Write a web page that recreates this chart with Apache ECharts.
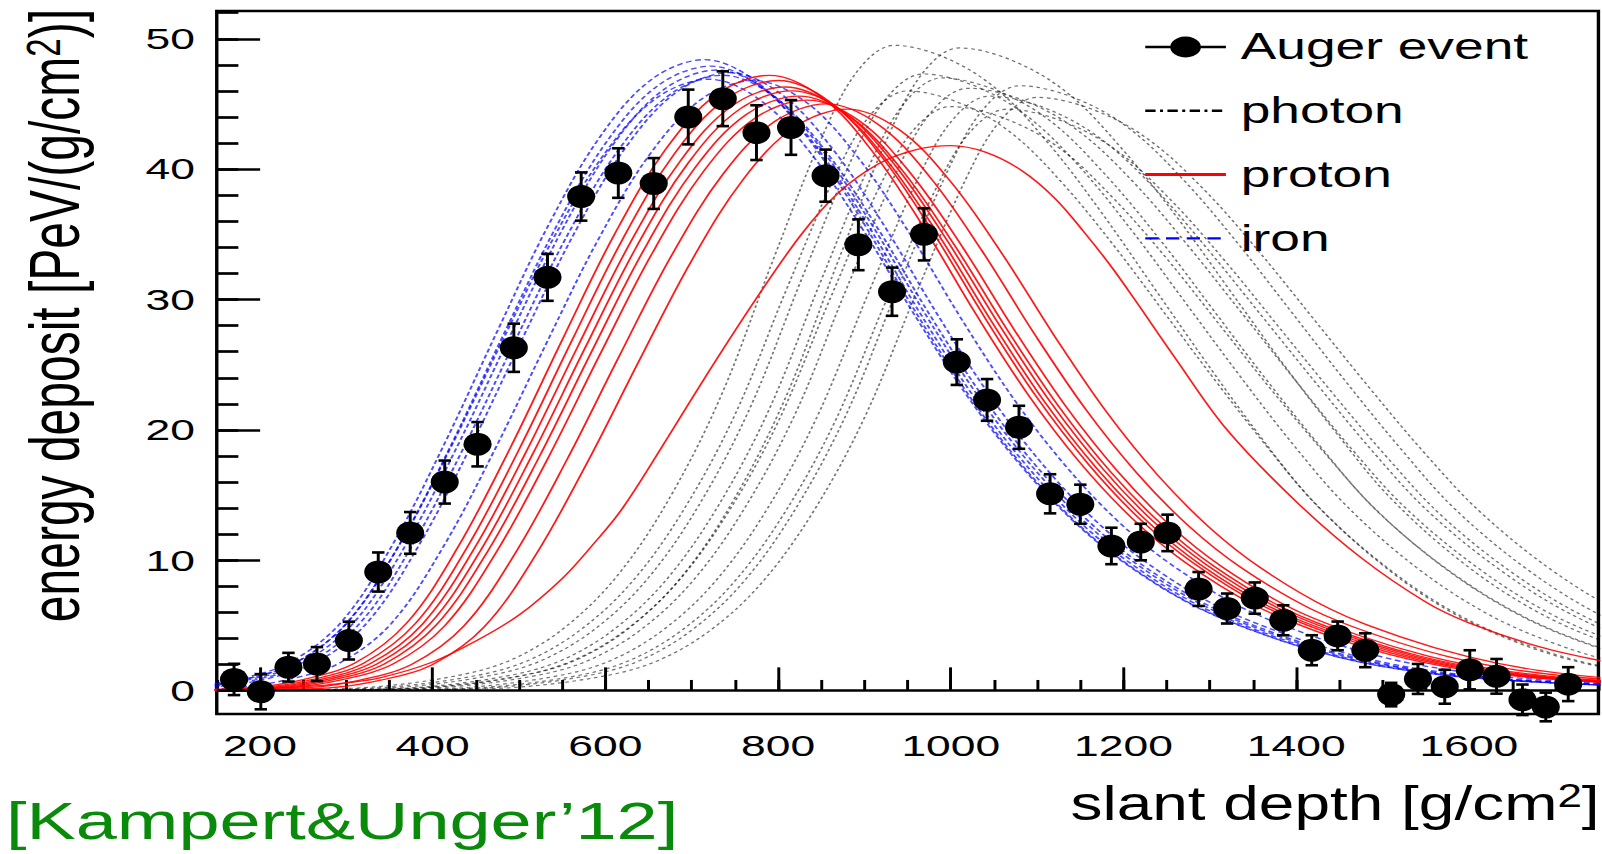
<!DOCTYPE html>
<html><head><meta charset="utf-8">
<script src="https://cdn.jsdelivr.net/npm/echarts@6/dist/echarts.min.js"></script>
<style>
html,body{margin:0;padding:0;background:#fff;width:1602px;height:854px;overflow:hidden}
#chart{width:1082px;height:854px;transform:scaleX(1.48059);transform-origin:0 0}
</style></head><body><div id="chart"></div><script>
// ---- tick values ----
const xMajorTicks = [200,400,600,800,1000,1200,1400,1600];
const xMinorTicks = [150,200,250,300,350,400,450,500,550,600,650,700,750,800,850,900,950,1000,1050,1100,1150,1200,1250,1300,1350,1400,1450,1500,1550,1600,1650,1700,1750];
const yMajorTicks = [0,10,20,30,40,50];
const yMinorTicks = [0,2,4,6,8,10,12,14,16,18,20,22,24,26,28,30,32,34,36,38,40,42,44,46,48,50,52];

// ---- Auger event data ----
const augerX = [170,201,233,266,303,337,374,414,452,494,533,572,615,656,696,736,775,815,855,893,932,969,1007,1042,1079,1115,1150,1186,1220,1251,1287,1320,1352,1385,1418,1448,1480,1510,1541,1572,1601,1632,1662,1689,1715];
const augerY = [0.86,-0.08,1.8,2.04,3.84,9.1,12.1,16.0,18.9,26.3,31.7,37.9,39.7,38.9,44.0,45.4,42.8,43.2,39.5,34.2,30.6,35.0,25.2,22.3,20.2,15.1,14.3,11.1,11.4,12.1,7.8,6.3,7.1,5.4,3.1,4.2,3.1,-0.3,0.9,0.3,1.6,1.1,-0.7,-1.25,0.5];
const augerErr = [1.2,1.35,1.1,1.3,1.45,1.5,1.6,1.65,1.7,1.85,1.8,1.85,1.9,1.95,2.1,2.1,2.1,2.1,2.0,1.95,1.85,2.0,1.75,1.6,1.65,1.5,1.5,1.4,1.4,1.4,1.3,1.15,1.2,1.15,1.15,1.1,1.3,0.9,1.15,1.3,1.5,1.33,1.17,1.1,1.3];

// ---- simulated iron showers ----
const iron1 = [[115,0.24],[175,0.87],[235,2.18],[295,5.32],[355,11.37],[415,19.12],[475,27.59],[535,35.82],[595,42.59],[655,46.95],[715,48.4],[775,46.71],[835,42.35],[895,36.3],[955,29.52],[1015,23.23],[1075,17.91],[1135,13.55],[1195,10.16],[1275,6.78],[1355,4.5],[1435,2.81],[1515,1.69],[1615,0.92],[1765,0.39]];
const iron2 = [[122,0.24],[182,0.86],[242,2.16],[302,5.27],[362,11.26],[422,18.92],[482,27.3],[542,35.45],[602,42.15],[662,46.46],[722,47.9],[782,46.22],[842,41.91],[902,35.93],[962,29.22],[1022,22.99],[1082,17.72],[1142,13.41],[1202,10.06],[1282,6.71],[1362,4.45],[1442,2.78],[1522,1.68],[1622,0.91],[1772,0.38]];
const iron3 = [[129,0.24],[189,0.86],[249,2.14],[309,5.24],[369,11.19],[429,18.8],[489,27.13],[549,35.22],[609,41.89],[669,46.17],[729,47.6],[789,45.93],[849,41.65],[909,35.7],[969,29.04],[1029,22.85],[1089,17.61],[1149,13.33],[1209,10.0],[1289,6.66],[1369,4.43],[1449,2.76],[1529,1.67],[1629,0.9],[1779,0.38]];
const iron4 = [[136,0.24],[196,0.85],[256,2.12],[316,5.19],[376,11.09],[436,18.64],[496,26.9],[556,34.93],[616,41.54],[676,45.78],[736,47.2],[796,45.55],[856,41.3],[916,35.4],[976,28.79],[1036,22.66],[1096,17.46],[1156,13.22],[1216,9.91],[1296,6.61],[1376,4.39],[1456,2.74],[1536,1.65],[1636,0.9],[1786,0.38]];
const iron5 = [[120,0.23],[180,0.84],[240,2.11],[300,5.16],[360,11.02],[420,18.53],[480,26.73],[540,34.71],[600,41.27],[660,45.49],[720,46.9],[780,45.26],[840,41.04],[900,35.18],[960,28.61],[1020,22.51],[1080,17.35],[1140,13.13],[1200,9.85],[1280,6.57],[1360,4.36],[1440,2.72],[1520,1.64],[1620,0.89],[1770,0.38]];
const iron6 = [[144,0.24],[204,0.85],[264,2.13],[324,5.21],[384,11.14],[444,18.72],[504,27.02],[564,35.08],[624,41.71],[684,45.98],[744,47.4],[804,45.74],[864,41.48],[924,35.55],[984,28.91],[1044,22.75],[1104,17.54],[1164,13.27],[1224,9.95],[1304,6.64],[1384,4.41],[1464,2.75],[1544,1.66],[1644,0.9],[1794,0.38]];
const iron7 = [[100,0.05],[172,0.23],[232,0.84],[292,2.11],[352,5.15],[412,11.0],[472,18.49],[532,26.68],[592,34.63],[652,41.18],[712,45.4],[772,46.8],[832,45.16],[892,40.95],[952,35.1],[1012,28.55],[1072,22.46],[1132,17.32],[1192,13.1],[1252,9.83],[1332,6.55],[1412,4.35],[1492,2.71],[1572,1.64],[1672,0.89],[1822,0.37]];

// ---- simulated proton showers ----
const proton1 = [[100,0.03],[190,0.24],[250,0.85],[310,2.12],[370,5.19],[430,11.09],[490,18.64],[550,26.9],[610,34.93],[670,41.54],[730,45.78],[790,47.2],[850,45.55],[910,41.3],[970,35.4],[1030,28.79],[1090,22.66],[1150,17.46],[1210,13.22],[1270,9.91],[1350,6.61],[1430,4.39],[1510,2.74],[1590,1.65],[1690,0.9],[1840,0.38]];
const proton2 = [[100,0.03],[200,0.23],[260,0.84],[320,2.11],[380,5.15],[440,11.0],[500,18.49],[560,26.68],[620,34.63],[680,41.18],[740,45.4],[800,46.8],[860,45.16],[920,40.95],[980,35.1],[1040,28.55],[1100,22.46],[1160,17.32],[1220,13.1],[1280,9.83],[1360,6.55],[1440,4.35],[1520,2.71],[1600,1.64],[1700,0.89],[1850,0.37]];
const proton3 = [[120,0.02],[208,0.23],[268,0.83],[328,2.08],[388,5.09],[448,10.88],[508,18.29],[568,26.39],[628,34.26],[688,40.74],[748,44.91],[808,46.3],[868,44.68],[928,40.51],[988,34.73],[1048,28.24],[1108,22.22],[1168,17.13],[1228,12.96],[1288,9.72],[1368,6.48],[1448,4.31],[1528,2.69],[1608,1.62],[1708,0.88],[1858,0.37]];
const proton4 = [[120,0.02],[216,0.23],[276,0.83],[336,2.07],[396,5.06],[456,10.81],[516,18.17],[576,26.22],[636,34.04],[696,40.48],[756,44.62],[816,46.0],[876,44.39],[936,40.25],[996,34.5],[1056,28.06],[1116,22.08],[1176,17.02],[1236,12.88],[1296,9.66],[1376,6.44],[1456,4.28],[1536,2.67],[1616,1.61],[1716,0.87],[1866,0.37]];
const proton5 = [[120,0.02],[224,0.23],[284,0.82],[344,2.05],[404,5.02],[464,10.72],[524,18.01],[584,25.99],[644,33.74],[704,40.13],[764,44.23],[824,45.6],[884,44.0],[944,39.9],[1004,34.2],[1064,27.82],[1124,21.89],[1184,16.87],[1244,12.77],[1304,9.58],[1384,6.38],[1464,4.24],[1544,2.64],[1624,1.6],[1724,0.87],[1874,0.36]];
const proton6 = [[120,0.02],[234,0.23],[294,0.82],[354,2.04],[414,4.98],[474,10.65],[534,17.89],[594,25.82],[654,33.52],[714,39.86],[774,43.94],[834,45.3],[894,43.71],[954,39.64],[1014,33.98],[1074,27.63],[1134,21.74],[1194,16.76],[1254,12.68],[1314,9.51],[1394,6.34],[1474,4.21],[1554,2.63],[1634,1.59],[1734,0.86],[1884,0.36]];
const proton7 = [[120,0.02],[256,0.23],[316,0.81],[376,2.03],[436,4.95],[496,10.58],[556,17.78],[616,25.65],[676,33.3],[736,39.6],[796,43.65],[856,45.0],[916,43.43],[976,39.38],[1036,33.75],[1096,27.45],[1156,21.6],[1216,16.65],[1276,12.6],[1336,9.45],[1416,6.3],[1496,4.19],[1576,2.61],[1656,1.58],[1756,0.86],[1906,0.36]];
const proton8 = [[120,0.02],[280,0.22],[340,0.8],[400,2.01],[460,4.91],[520,10.48],[580,17.62],[640,25.42],[700,33.0],[760,39.25],[820,43.26],[880,44.6],[940,43.04],[1000,39.03],[1060,33.45],[1120,27.21],[1180,21.41],[1240,16.5],[1300,12.49],[1360,9.37],[1440,6.24],[1520,4.15],[1600,2.59],[1680,1.56],[1780,0.85],[1930,0.36]];
const proton9 = [[150,0.05],[200,0.15],[250,0.3],[300,0.6],[340,1.0],[400,2.2],[450,3.8],[500,5.8],[550,8.6],[583,11.0],[620,14.0],[673,19.5],[720,24.5],[774,30.0],[827,35.0],[870,38.2],[916,40.4],[960,41.5],[1000,41.8],[1040,41.3],[1082,39.9],[1120,37.8],[1154,35.2],[1185,32.6],[1213,30.0],[1260,25.5],[1320,20.0],[1400,14.5],[1475,10.2],[1550,6.8],[1600,5.2],[1680,3.4],[1760,2.2]];

// ---- simulated photon showers ----
const photon1 = [[235,0.05],[335,0.3],[435,1.24],[495,2.48],[555,4.95],[615,8.91],[675,14.85],[735,22.77],[795,33.17],[855,43.07],[895,47.77],[935,49.5],[995,48.51],[1055,46.04],[1115,41.83],[1175,36.63],[1235,30.94],[1295,25.25],[1355,19.8],[1415,14.85],[1495,9.9],[1575,6.19],[1655,3.71],[1735,2.08],[1835,0.99]];
const photon2 = [[250,0.04],[350,0.28],[450,1.15],[510,2.3],[570,4.6],[630,8.28],[690,13.8],[750,21.16],[810,30.82],[870,40.02],[910,44.39],[950,46.0],[1010,45.08],[1070,42.78],[1130,38.87],[1190,34.04],[1250,28.75],[1310,23.46],[1370,18.4],[1430,13.8],[1510,9.2],[1590,5.75],[1670,3.45],[1750,1.93],[1850,0.92]];
const photon3 = [[268,0.04],[368,0.28],[468,1.18],[528,2.37],[588,4.73],[648,8.51],[708,14.19],[768,21.76],[828,31.69],[888,41.15],[928,45.64],[968,47.3],[1029,46.35],[1090,43.99],[1152,39.97],[1213,35.0],[1274,29.56],[1335,24.12],[1396,18.92],[1458,14.19],[1539,9.46],[1621,5.91],[1702,3.55],[1784,1.99],[1886,0.95]];
const photon4 = [[290,0.04],[390,0.28],[490,1.18],[550,2.35],[610,4.7],[670,8.46],[730,14.1],[790,21.62],[850,31.49],[910,40.89],[950,45.36],[990,47.0],[1052,46.06],[1115,43.71],[1177,39.72],[1240,34.78],[1302,29.38],[1364,23.97],[1427,18.8],[1489,14.1],[1572,9.4],[1656,5.88],[1739,3.53],[1822,1.97],[1926,0.94]];
const photon5 = [[310,0.04],[410,0.3],[510,1.23],[570,2.47],[630,4.93],[690,8.87],[750,14.79],[810,22.68],[870,33.03],[930,42.89],[970,47.57],[1010,49.3],[1072,48.31],[1135,45.85],[1197,41.66],[1260,36.48],[1322,30.81],[1384,25.14],[1447,19.72],[1509,14.79],[1592,9.86],[1676,6.16],[1759,3.7],[1842,2.07],[1946,0.99]];
const photon6 = [[300,0.04],[400,0.27],[500,1.12],[560,2.24],[620,4.48],[680,8.06],[740,13.44],[800,20.61],[860,30.02],[920,38.98],[960,43.23],[1000,44.8],[1062,43.9],[1125,41.66],[1187,37.86],[1250,33.15],[1312,28.0],[1374,22.85],[1437,17.92],[1499,13.44],[1582,8.96],[1666,5.6],[1749,3.36],[1832,1.88],[1936,0.9]];
const photon7 = [[320,0.04],[420,0.28],[520,1.16],[580,2.31],[640,4.62],[700,8.32],[760,13.86],[820,21.25],[880,30.95],[940,40.19],[980,44.58],[1020,46.2],[1084,45.28],[1147,42.97],[1211,39.04],[1274,34.19],[1338,28.88],[1402,23.56],[1465,18.48],[1529,13.86],[1614,9.24],[1698,5.78],[1783,3.47],[1868,1.94],[1974,0.92]];
const photon8 = [[345,0.04],[445,0.27],[545,1.14],[605,2.28],[665,4.56],[725,8.21],[785,13.68],[845,20.98],[905,30.55],[965,39.67],[1005,44.0],[1045,45.6],[1109,44.69],[1172,42.41],[1236,38.53],[1299,33.74],[1363,28.5],[1427,23.26],[1490,18.24],[1554,13.68],[1639,9.12],[1723,5.7],[1808,3.42],[1893,1.92],[1999,0.91]];
const photon9 = [[365,0.04],[465,0.27],[565,1.12],[625,2.23],[685,4.46],[745,8.03],[805,13.38],[865,20.52],[925,29.88],[985,38.8],[1025,43.04],[1065,44.6],[1128,43.71],[1191,41.48],[1254,37.69],[1317,33.0],[1380,27.88],[1443,22.75],[1506,17.84],[1569,13.38],[1653,8.92],[1737,5.58],[1821,3.35],[1905,1.87],[2010,0.89]];
const photon10 = [[380,0.04],[480,0.28],[580,1.16],[640,2.32],[700,4.64],[760,8.35],[820,13.92],[880,21.34],[940,31.09],[1000,40.37],[1040,44.78],[1080,46.4],[1143,45.47],[1206,43.15],[1269,39.21],[1332,34.34],[1395,29.0],[1458,23.66],[1521,18.56],[1584,13.92],[1668,9.28],[1752,5.8],[1836,3.48],[1920,1.95],[2025,0.93]];
const photon11 = [[400,0.04],[500,0.27],[600,1.14],[660,2.28],[720,4.55],[780,8.19],[840,13.65],[900,20.93],[960,30.49],[1020,39.59],[1060,43.91],[1100,45.5],[1164,44.59],[1228,42.32],[1293,38.45],[1357,33.67],[1421,28.44],[1485,23.21],[1549,18.2],[1614,13.65],[1699,9.1],[1785,5.69],[1870,3.41],[1956,1.91],[2063,0.91]];

const photonCurves = [photon1,photon2,photon3,photon4,photon5,photon6,photon7,photon8,photon9,photon10,photon11];
const ironCurves = [iron1,iron2,iron3,iron4,iron5,iron6,iron7];
const protonCurves = [proton1,proton2,proton3,proton4,proton5,proton6,proton7,proton8,proton9];

const FONT = "'Liberation Sans', Arial, Helvetica, sans-serif";
const chart = echarts.init(document.getElementById('chart'), null, {renderer:'svg'});

const photonStyle = {color:'#000', width:1.2, opacity:0.55, type:[2.5,2.5]};
const ironStyle = {color:'#0000ff', width:1.4, opacity:0.7, type:[4,2.5]};
const protonStyle = {color:'#ff0000', width:1.3, opacity:0.9, type:'solid'};

function curve(name, data, style) {
  return {type:'line', name:name, data:data, smooth:0.35, symbol:'none', showSymbol:false,
          lineStyle:style, itemStyle:{color:style.color}, silent:true, z:2, animation:false};
}
const series = [];
photonCurves.forEach(c => series.push(curve('photon', c, photonStyle)));
ironCurves.forEach(c => series.push(curve('iron', c, ironStyle)));
protonCurves.forEach(c => series.push(curve('proton', c, protonStyle)));

const errData = augerX.map((x,i) => [x, augerY[i], augerErr[i]]);
series.push({
  type:'custom', name:'Auger event errors', data:errData, z:4, silent:true,
  renderItem:function(params, api){
    const x = api.value(0), y = api.value(1), e = api.value(2);
    const t = api.coord([x, y+e]), b = api.coord([x, y-e]);
    const hw = 4.2;
    return {type:'group', children:[
      {type:'line', shape:{x1:t[0], y1:t[1], x2:b[0], y2:b[1]}, style:{stroke:'#000', lineWidth:2}},
      {type:'line', shape:{x1:t[0]-hw, y1:t[1], x2:t[0]+hw, y2:t[1]}, style:{stroke:'#000', lineWidth:2.6}},
      {type:'line', shape:{x1:b[0]-hw, y1:b[1], x2:b[0]+hw, y2:b[1]}, style:{stroke:'#000', lineWidth:2.6}}
    ]};
  }
});
series.push({
  type:'line', name:'Auger event', data:augerX.map((x,i)=>[x, augerY[i]]),
  symbol:'circle', symbolSize:[19,23], showSymbol:true,
  lineStyle:{width:0, color:'#000'}, itemStyle:{color:'#000'}, z:5, silent:true,
  markLine:{silent:true, symbol:'none', label:{show:false}, animation:false,
            lineStyle:{color:'#000', width:2.5, type:'solid'}, data:[{yAxis:0}]}
});

const tickFont = {fontFamily:FONT, fontSize:30, color:'#000'};
const plainNum = v => String(v);
chart.setOption({
  animation:false,
  backgroundColor:'#fff',
  grid:{left:146.4, right:2.4, top:11, bottom:140, show:true, borderColor:'#000', borderWidth:2.3, backgroundColor:'transparent'},
  xAxis:[
    {type:'value', min:150, max:1750, position:'bottom',
     axisLine:{show:false}, splitLine:{show:false},
     axisTick:{show:true, inside:true, length:23.3, customValues:xMajorTicks, lineStyle:{color:'#000', width:2}},
     axisLabel:Object.assign({show:true, margin:16.5, customValues:xMajorTicks, formatter:plainNum}, tickFont)},
    {type:'value', min:150, max:1750, position:'bottom', offset:0,
     axisLine:{show:false}, splitLine:{show:false}, axisLabel:{show:false},
     axisTick:{show:true, inside:true, length:10.7, customValues:xMinorTicks, lineStyle:{color:'#000', width:2}}}
  ],
  yAxis:[
    {type:'value', min:-1.79, max:52.13, position:'left',
     axisLine:{show:false}, splitLine:{show:false},
     axisTick:{show:true, inside:true, length:29.3, customValues:yMajorTicks, lineStyle:{color:'#000', width:2.7}},
     axisLabel:Object.assign({show:true, margin:14.7, customValues:yMajorTicks, formatter:plainNum}, tickFont)},
    {type:'value', min:-1.79, max:52.13, position:'left', offset:0,
     axisLine:{show:false}, splitLine:{show:false}, axisLabel:{show:false},
     axisTick:{show:true, inside:true, length:14.6, customValues:yMinorTicks, lineStyle:{color:'#000', width:2.7}}}
  ],
  legend:{
    orient:'vertical', left:767, top:24, itemWidth:54.5, itemHeight:26, itemGap:27.8,
    selectedMode:false,
    textStyle:{fontFamily:FONT, fontSize:36, color:'#000', padding:[0,0,0,5]},
    data:[
      {name:'Auger event', lineStyle:{width:2.5, color:'#000', type:'solid', opacity:1}},
      {name:'photon', lineStyle:{width:2.4, color:'#000', type:[7,3,2,3], opacity:1}, itemStyle:{opacity:0}},
      {name:'proton', lineStyle:{width:3, color:'#ff0000', type:'solid', opacity:1}, itemStyle:{opacity:0}},
      {name:'iron', lineStyle:{width:2.4, color:'#0000ff', type:[9,5], opacity:1}, itemStyle:{opacity:0}}
    ]
  },
  graphic:[
    {type:'text', x:36.4, y:9, rotation:Math.PI/2, silent:true,
     style:{text:'energy deposit [PeV/(g/cm{sup|2})]', fontFamily:FONT, fontSize:48, lineHeight:48, fill:'#000',
            align:'right', textAlign:'right', verticalAlign:'middle', textVerticalAlign:'middle',
            rich:{sup:{fontFamily:FONT, fontSize:33, lineHeight:14, verticalAlign:'top', fill:'#000'}}}},
    {type:'text', x:1080.4, y:803, scaleX:0.9, silent:true,
     style:{text:'slant depth [g/cm{sup|2}]', fontFamily:FONT, fontSize:48, lineHeight:48, fill:'#000',
            align:'right', textAlign:'right', verticalAlign:'middle', textVerticalAlign:'middle',
            rich:{sup:{fontFamily:FONT, fontSize:33, lineHeight:14, verticalAlign:'top', fill:'#000'}}}},
    {type:'text', x:4, y:821.5, scaleX:0.96, silent:true,
     style:{text:'[Kampert&Unger\u201912]', fontFamily:FONT, fontSize:52, lineHeight:52, fill:'#0a8a0a',
            align:'left', textAlign:'left', verticalAlign:'middle', textVerticalAlign:'middle'}}
  ],
  series:series
});
</script></body></html>
